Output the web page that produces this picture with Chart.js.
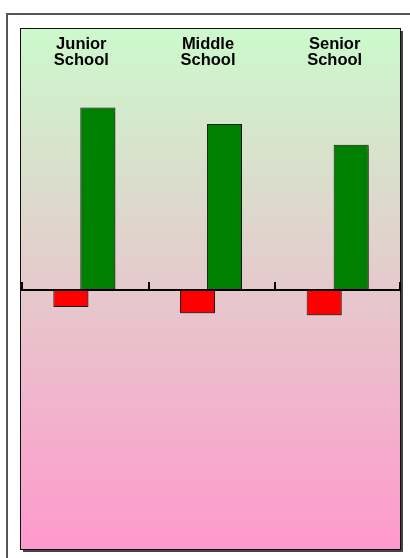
<!DOCTYPE html>
<html>
<head>
<meta charset="utf-8">
<script src="https://cdn.jsdelivr.net/npm/chart.js@4.4.1/dist/chart.umd.min.js"></script>
<style>
  html, body { margin: 0; padding: 0; background: #fff; overflow: hidden; }
  #wrap { position: relative; width: 410px; height: 558px; }
  #outer {
    position: absolute; left: 6px; top: 13px; width: 600px; height: 700px;
    border: 2px solid #555;
  }
  #chart { position: absolute; left: 0; top: 0; }
</style>
</head>
<body>
<div id="wrap">
  <div id="outer"></div>
  <canvas id="chart" width="410" height="558"></canvas>
</div>
<script>
const schools = [['Junior', 'School'], ['Middle', 'School'], ['Senior', 'School']];
const gains = [88, 80, 70];
const losses = [-8.5, -11.5, -12.5];
const axisMin = -126;
const axisMax = 126;

// background gradient, zero line with ticks, frame and the school names
const framePlugin = {
    id: 'frame',
    beforeDraw(chart) {
        const { ctx, chartArea: a } = chart;
        const g = ctx.createLinearGradient(0, a.top, 0, a.bottom);
        g.addColorStop(0, '#ccf9cc');
        g.addColorStop(1, '#ff99cc');
        ctx.save();
        ctx.fillStyle = g;
        ctx.fillRect(a.left, a.top, a.right - a.left, a.bottom - a.top);
        ctx.restore();
    },
    beforeDatasetsDraw(chart) {
        const ctx = chart.ctx;
        ctx.save();
        ctx.shadowColor = 'rgba(0,0,0,0.35)';
        ctx.shadowOffsetX = 1;
        ctx.shadowOffsetY = 1;
        ctx.shadowBlur = 1;
    },
    afterDatasetsDraw(chart) {
        const { ctx, chartArea: a, scales } = chart;
        ctx.restore();
        const x = scales.x, y = scales.y;
        const zero = Math.round(y.getPixelForValue(0));
        const step = (a.right - a.left) / schools.length;

        ctx.save();
        // frame with a small drop shadow
        ctx.fillStyle = '#444';
        ctx.fillRect(a.right, a.top + 2, 2, a.bottom - a.top);
        ctx.fillRect(a.left + 2, a.bottom, a.right - a.left, 2);
        ctx.strokeStyle = '#111';
        ctx.lineWidth = 1;
        ctx.strokeRect(a.left - 0.5, a.top - 0.5, a.right - a.left, a.bottom - a.top);

        // zero line
        ctx.fillStyle = '#000';
        ctx.fillRect(a.left, zero - 1, a.right - a.left, 2);
        for (let i = 0; i <= schools.length; i++) {
            const tx = Math.round(x.getPixelForValue(i) - step / 2);
            ctx.fillRect(Math.min(tx, a.right - 2), zero - 8, 2, 8);
        }

        // school names along the top
        ctx.font = 'bold 16.5px "Liberation Sans", Arial, sans-serif';
        ctx.textAlign = 'center';
        ctx.textBaseline = 'alphabetic';
        ctx.fillStyle = '#000';
        schools.forEach((lines, i) => {
            const cx = x.getPixelForValue(i) - 3;
            lines.forEach((t, k) => ctx.fillText(t, cx, a.top + 20 + k * 15.5));
        });
        ctx.restore();
    }
};

new Chart(document.getElementById('chart'), {
    type: 'bar',
    data: {
        labels: schools,
        datasets: [{
            data: losses,
            backgroundColor: '#ff0000',
            borderColor: '#222',
            borderWidth: 1,
            borderSkipped: false
        }, {
            data: gains,
            backgroundColor: '#008000',
            borderColor: '#1a1a1a',
            borderWidth: 1,
            borderSkipped: false
        }]
    },
    options: {
        responsive: false,
        animation: false,
        devicePixelRatio: 1,
        layout: { padding: { left: 21, right: 9, top: 29, bottom: 8 } },
        datasets: {
            bar: { categoryPercentage: 0.426, barPercentage: 1.3 }
        },
        scales: {
            x: { display: false },
            y: { display: false, min: axisMin, max: axisMax }
        },
        plugins: {
            legend: { display: false },
            tooltip: { enabled: false }
        }
    },
    plugins: [framePlugin]
});
</script>
</body>
</html>
